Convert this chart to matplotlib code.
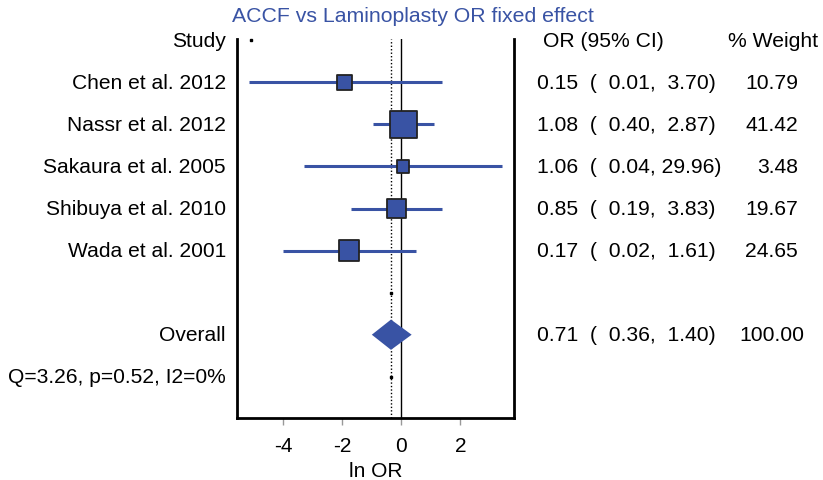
import matplotlib
matplotlib.use("Agg")
import matplotlib.pyplot as plt
import matplotlib.transforms as mtransforms
import numpy as np

plt.rcParams['font.family'] = ['Liberation Sans', 'DejaVu Sans']

title = "ACCF vs Laminoplasty OR fixed effect"
studies = ["Chen et al. 2012", "Nassr et al. 2012", "Sakaura et al. 2005",
           "Shibuya et al. 2010", "Wada et al. 2001"]
ln_or = [-1.93, 0.075, 0.06, -0.17, -1.77]
ln_lo = [-5.16, -0.95, -3.31, -1.71, -4.00]
ln_hi = [1.37, 1.12, 3.42, 1.37, 0.51]
or_txt = ["0.15", "1.08", "1.06", "0.85", "0.17"]
lo_txt = ["0.01", "0.40", "0.04", "0.19", "0.02"]
hi_txt = ["3.70", "2.87", "29.96", "3.83", "1.61"]
weights = [10.79, 41.42, 3.48, 19.67, 24.65]
overall_ln = -0.35
overall_lo = -1.00
overall_hi = 0.35
overall_or_txt = ["0.71", "0.36", "1.40"]
overall_weight = 100.00
het_text = "Q=3.26, p=0.52, I2=0%"
xticks = [-4, -2, 0, 2]

blue = "#3953a4"
W, H = 823, 481
fig = plt.figure(figsize=(W / 100, H / 100), dpi=100)
ax = fig.add_axes([237 / W, (H - 419) / H, (514 - 237) / W, (419 - 40) / H])

ax.set_xlim(-5.57, 3.82)
ax.set_ylim(8.98, -0.03)

rows = np.arange(1, 6)
# reference lines
ax.axvline(0, color="black", lw=1.0, zorder=1)
ax.axvline(overall_ln, color="black", lw=1.0, ls=(0, (1, 1.5)), zorder=1)

# CIs
ax.hlines(rows, ln_lo, ln_hi, color=blue, lw=2.2, zorder=2)
# boxes: side in pixels
sides_px = [10.95 + 0.387 * w for w in weights]
sizes = [(s * 0.72) ** 2 for s in sides_px]
ax.scatter(ln_or, rows, s=sizes, marker="s", facecolor=blue,
           edgecolor="#222222", linewidths=1.3, zorder=3)

# overall diamond
yo = 7
ax.fill([overall_lo, overall_ln, overall_hi, overall_ln],
        [yo, yo - 0.36, yo, yo + 0.36], color=blue, zorder=3, lw=0)

# small dots
ax.plot([-5.1], [0], marker="s", ms=2, color="black", ls="none", clip_on=False)
ax.plot([overall_ln, overall_ln], [6, 8], marker="s", ms=2, color="black", ls="none")

ax.spines["top"].set_visible(False)
for sp in ["left", "right", "bottom"]:
    ax.spines[sp].set_linewidth(2.0)
ax.set_yticks([])
ax.set_xticks(xticks)
ax.set_xticklabels([str(t) for t in xticks], fontsize=15)
ax.tick_params(axis="x", direction="out", length=5, width=1, color="#999999", pad=8)
ax.set_xlabel("ln OR", fontsize=15, labelpad=4)

trans = mtransforms.blended_transform_factory(fig.transFigure, ax.transData)
fs = 15.2
fs_left = 15.1
def px(x):
    return x / W

# left labels
ax.text(px(226), 0, "Study", transform=trans, ha="right", va="center", fontsize=fs_left)
for r, s in zip(rows, studies):
    ax.text(px(226), r, s, transform=trans, ha="right", va="center", fontsize=fs_left)
ax.text(px(226), 7, "Overall", transform=trans, ha="right", va="center", fontsize=fs_left)
ax.text(px(226), 8, het_text, transform=trans, ha="right", va="center", fontsize=fs_left)

# right columns
ax.text(px(543), 0, "OR (95% CI)", transform=trans, ha="left", va="center", fontsize=fs)
ax.text(px(818), 0, "% Weight", transform=trans, ha="right", va="center", fontsize=fs)

def ci_str(o, l, h):
    return f"{o}  ( {float(l):5.2f}, {float(h):5.2f})"

def wt_x(w):
    return 804 if w >= 100 else 798

for r, o, l, h, w in zip(rows, or_txt, lo_txt, hi_txt, weights):
    ax.text(px(537), r, ci_str(o, l, h), transform=trans, ha="left", va="center", fontsize=fs)
    ax.text(px(wt_x(w)), r, f"{w:.2f}", transform=trans, ha="right", va="center", fontsize=fs)
ax.text(px(537), 7, ci_str(*overall_or_txt), transform=trans, ha="left", va="center", fontsize=fs)
ax.text(px(wt_x(overall_weight)), 7, f"{overall_weight:.2f}", transform=trans,
        ha="right", va="center", fontsize=fs)

fig.text(px(412.5), 1 - 17 / H, title, ha="center", va="center", fontsize=15.3, color=blue)

fig.savefig("out.png", dpi=100)
